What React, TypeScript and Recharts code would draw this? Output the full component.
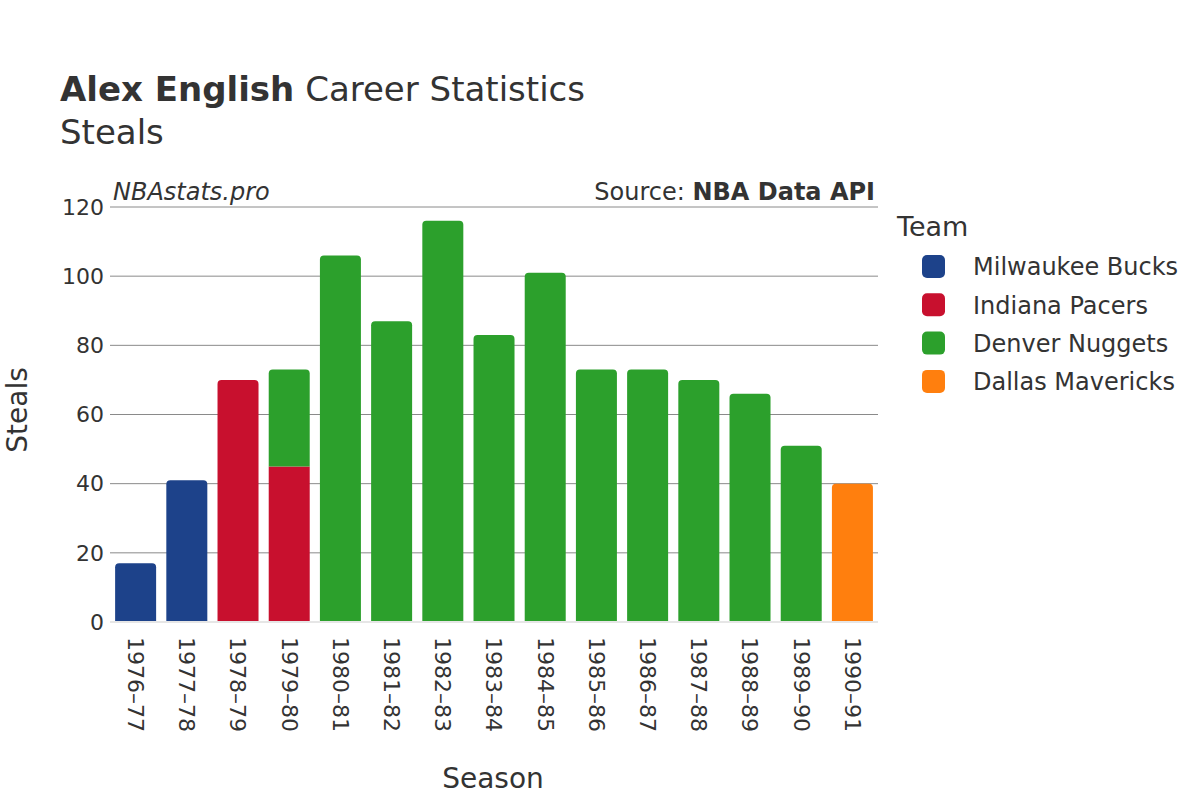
import React from 'react';
import { BarChart, Bar, XAxis, YAxis, CartesianGrid, ReferenceLine } from 'recharts';

const SEASONS = [
  '1976–77', '1977–78', '1978–79', '1979–80', '1980–81', '1981–82', '1982–83', '1983–84',
  '1984–85', '1985–86', '1986–87', '1987–88', '1988–89', '1989–90', '1990–91',
];

const MILWAUKEE = [17, 41, null, null, null, null, null, null, null, null, null, null, null, null, null];
const INDIANA = [null, null, 70, 45, null, null, null, null, null, null, null, null, null, null, null];
const DENVER = [null, null, null, 28, 106, 87, 116, 83, 101, 73, 73, 70, 66, 51, null];
const DALLAS = [null, null, null, null, null, null, null, null, null, null, null, null, null, null, 40];

const Y_TICKS = [0, 20, 40, 60, 80, 100, 120];

const TEAMS = [
  { key: 'mil', name: 'Milwaukee Bucks', color: '#1D428A', values: MILWAUKEE },
  { key: 'ind', name: 'Indiana Pacers', color: '#C8102E', values: INDIANA },
  { key: 'den', name: 'Denver Nuggets', color: '#2CA02C', values: DENVER },
  { key: 'dal', name: 'Dallas Mavericks', color: '#FF7F0E', values: DALLAS },
];

const data = SEASONS.map((season, i) => {
  const row: any = { season };
  TEAMS.forEach((t) => {
    row[t.key] = t.values[i];
  });
  return row;
});

const FONT = '"DejaVu Sans", sans-serif';
const TEXT = '#333333';

// top-most segment of the stack gets rounded corners
function makeShape(teamKey: string) {
  return (props: any) => {
    const { x, y, width, height, fill, payload } = props;
    if (!height || height <= 0) return <g />;
    const present = TEAMS.filter((t) => payload[t.key] != null).map((t) => t.key);
    const isTop = present[present.length - 1] === teamKey;
    const r = isTop ? Math.min(4, height, width / 2) : 0;
    const d = `M${x},${y + height} L${x},${y + r} Q${x},${y} ${x + r},${y} L${x + width - r},${y} Q${x + width},${y} ${x + width},${y + r} L${x + width},${y + height} Z`;
    return <path d={d} fill={fill} />;
  };
}

const XTick = ({ x, y, payload }: any) => (
  <text
    x={x}
    y={y}
    transform={`rotate(90, ${x}, ${y})`}
    dy="0.35em"
    textAnchor="start"
    fontSize={22}
    fill={TEXT}
    fontFamily={FONT}
  >
    {payload.value}
  </text>
);

const YTick = ({ y, payload }: any) => (
  <text x={104} y={y} dy="0.35em" textAnchor="end" fontSize={22} fill={TEXT} fontFamily={FONT}>
    {payload.value}
  </text>
);

export default function App() {
  return (
    <div style={{ position: 'absolute', left: 0, top: 0, width: 1200, height: 800, background: '#fff', fontFamily: FONT }}>
      <BarChart
        width={1200}
        height={800}
        data={data}
        margin={{ top: 207, right: 322, bottom: 0, left: 60 }}
        barCategoryGap="10%"
      >
        <CartesianGrid vertical={false} stroke="#8a8a8a" strokeWidth={1} />
        <XAxis
          dataKey="season"
          height={178}
          axisLine={false}
          tickLine={false}
          tick={<XTick />}
          tickMargin={9}
          interval={0}
        />
        <YAxis
          width={50}
          domain={[0, 120]}
          ticks={Y_TICKS}
          axisLine={false}
          tickLine={false}
          tick={<YTick />}
        />
        <ReferenceLine y={0} stroke="#e6e6e6" strokeWidth={2} />
        {TEAMS.map((t) => (
          <Bar
            key={t.key}
            dataKey={t.key}
            name={t.name}
            stackId="a"
            fill={t.color}
            isAnimationActive={false}
            shape={makeShape(t.key)}
          />
        ))}
        <text x={60} y={101} fontSize={34} fill={TEXT} fontFamily={FONT}>
          <tspan fontWeight="bold">Alex English</tspan>
          <tspan> Career Statistics</tspan>
        </text>
        <text x={60} y={144} fontSize={34} fill={TEXT} fontFamily={FONT}>Steals</text>
        <text x={113} y={200} fontSize={24} fontStyle="italic" fill={TEXT} fontFamily={FONT}>NBAstats.pro</text>
        <text x={875} y={200} fontSize={24} textAnchor="end" fill={TEXT} fontFamily={FONT}>
          <tspan>Source: </tspan>
          <tspan fontWeight="bold">NBA Data API</tspan>
        </text>
        <text
          x={17}
          y={410}
          dy="0.35em"
          fontSize={28}
          fill={TEXT}
          fontFamily={FONT}
          textAnchor="middle"
          transform="rotate(-90, 17, 410)"
        >
          Steals
        </text>
        <text x={493} y={788} fontSize={28} fill={TEXT} fontFamily={FONT} textAnchor="middle">Season</text>
        <text x={897} y={236} fontSize={27} fill={TEXT} fontFamily={FONT}>Team</text>
        {TEAMS.map((t, i) => (
          <g key={t.key}>
            <rect x={922} y={255 + i * 38.3} width={23} height={23} rx={5} fill={t.color} />
            <text x={973} y={267 + i * 38.3} dy="0.35em" fontSize={24} fill={TEXT} fontFamily={FONT}>
              {t.name}
            </text>
          </g>
        ))}
      </BarChart>
    </div>
  );
}
